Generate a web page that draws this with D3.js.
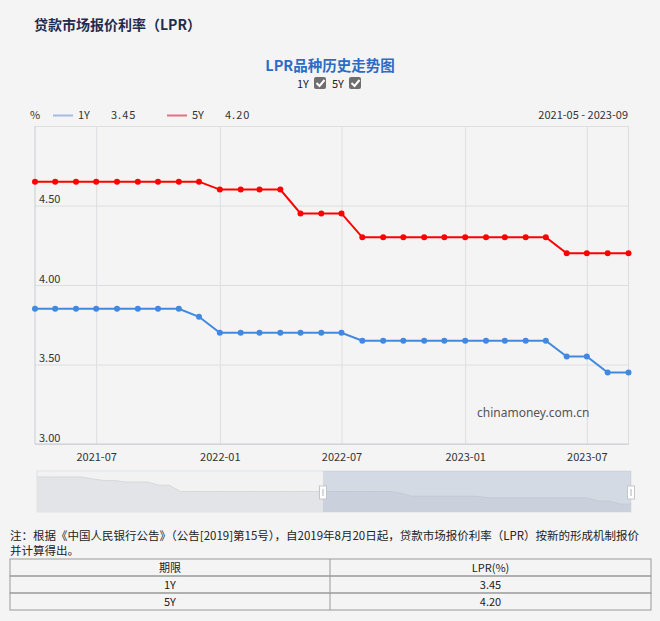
<!DOCTYPE html>
<html>
<head>
<meta charset="utf-8">
<script src="https://cdn.jsdelivr.net/npm/d3@7"></script>
<style>
  body { margin: 0; background: #f4f4f4; }
  svg { display: block; }
  text { font-family: "Noto Sans CJK SC", "Noto Sans", sans-serif; }
</style>
</head>
<body>
<script>
// monthly LPR shown in the main chart
const months = ["2021-04","2021-05","2021-06","2021-07","2021-08","2021-09","2021-10","2021-11","2021-12",
  "2022-01","2022-02","2022-03","2022-04","2022-05","2022-06","2022-07","2022-08","2022-09","2022-10","2022-11","2022-12",
  "2023-01","2023-02","2023-03","2023-04","2023-05","2023-06","2023-07","2023-08","2023-09"];
const rate1Y = [3.85,3.85,3.85,3.85,3.85,3.85,3.85,3.85,3.80,
  3.70,3.70,3.70,3.70,3.70,3.70,3.70,3.65,3.65,3.65,3.65,3.65,
  3.65,3.65,3.65,3.65,3.65,3.55,3.55,3.45,3.45];
const rate5Y = [4.65,4.65,4.65,4.65,4.65,4.65,4.65,4.65,4.65,
  4.60,4.60,4.60,4.60,4.45,4.45,4.45,4.30,4.30,4.30,4.30,4.30,
  4.30,4.30,4.30,4.30,4.30,4.20,4.20,4.20,4.20];

// full 1Y history drawn in the zoom slider
const historyMonths = ["2019-03","2019-04","2019-05","2019-06","2019-07","2019-08","2019-09","2019-10","2019-11","2019-12",
  "2020-01","2020-02","2020-03","2020-04","2020-05","2020-06","2020-07","2020-08","2020-09","2020-10","2020-11","2020-12",
  "2021-01","2021-02","2021-03","2021-04","2021-05","2021-06","2021-07","2021-08","2021-09","2021-10","2021-11","2021-12",
  "2022-01","2022-02","2022-03","2022-04","2022-05","2022-06","2022-07","2022-08","2022-09","2022-10","2022-11","2022-12",
  "2023-01","2023-02","2023-03","2023-04","2023-05","2023-06","2023-07","2023-08","2023-09"];
const history1Y = [4.31,4.31,4.31,4.31,4.31,4.25,4.20,4.20,4.15,4.15,
  4.15,4.05,4.05,3.85,3.85,3.85,3.85,3.85,3.85,3.85,3.85,3.85,
  3.85,3.85,3.85,3.85,3.85,3.85,3.85,3.85,3.85,3.85,3.85,3.80,
  3.70,3.70,3.70,3.70,3.70,3.70,3.70,3.65,3.65,3.65,3.65,3.65,
  3.65,3.65,3.65,3.65,3.65,3.55,3.55,3.45,3.45];
const windowRange = ["2021-05","2023-09"];

const xTickLabels = ["2021-07","2022-01","2022-07","2023-01","2023-07"];
const yTicks = [3.00, 3.50, 4.00, 4.50, 5.00];
const latest = [{term:"1Y", rate:"3.45"}, {term:"5Y", rate:"4.20"}];

const parseM = d3.timeParse("%Y-%m");
const blue = "#4189e0", red = "#ff0000";

var svg = d3.select("body").append("svg")
  .attr("width", 660)
  .attr("height", 621);

svg.append("text").text("贷款市场报价利率（LPR）")
  .attr("x", 34).attr("y", 30)
  .attr("font-size", 14).attr("font-weight", "bold")
  .attr("fill", "#1f2c4e");

svg.append("text").text("LPR品种历史走势图")
  .attr("x", 330).attr("y", 71)
  .attr("text-anchor", "middle")
  .attr("font-size", 14.5).attr("font-weight", "bold")
  .attr("fill", "#2b6cc8");

// series toggles
function checkbox(x, label){
  svg.append("text").text(label)
    .attr("x", x).attr("y", 88)
    .attr("font-size", 11).attr("fill", "#222");
  svg.append("rect")
    .attr("x", x + 17).attr("y", 77)
    .attr("width", 12).attr("height", 12)
    .attr("rx", 2).attr("fill", "#6e6e6e");
  svg.append("path")
    .attr("d", "M" + (x + 19.5) + ",83 l3,3 l5,-6")
    .attr("fill", "none").attr("stroke", "#fff").attr("stroke-width", 2);
}
checkbox(297, "1Y");
checkbox(332, "5Y");

// plot area
const pLeft = 35, pRight = 628.5, pTop = 126, pBottom = 444;

const x = d3.scaleTime()
  .domain([parseM(months[0]), parseM(months[months.length - 1])])
  .range([pLeft, pRight]);
const y = d3.scaleLinear()
  .domain([3, 5])
  .range([pBottom, pTop]);

var yAxis = svg.append("g")
  .attr("transform", "translate(" + pLeft + ",0)")
  .call(d3.axisLeft(y).tickValues(yTicks).tickSize(-(pRight - pLeft)).tickFormat(d3.format(".2f")));
yAxis.select(".domain").remove();
yAxis.selectAll("line").attr("stroke", "#dcdee2");
yAxis.selectAll("text")
  .attr("x", 4).attr("dy", "-0.25em")
  .attr("text-anchor", "start")
  .attr("font-size", 11).attr("fill", "#333")
  .style("font-family", "'Noto Sans CJK SC', sans-serif")
  .filter(function(d){ return d >= 5; }).remove();

var xAxis = svg.append("g")
  .attr("transform", "translate(0," + pBottom + ")")
  .call(d3.axisBottom(x).tickValues(xTickLabels.map(parseM)).tickSize(-(pBottom - pTop)).tickFormat(d3.timeFormat("%Y-%m")));
xAxis.select(".domain").remove();
xAxis.selectAll("line").attr("stroke", "#dcdee2");
xAxis.selectAll("text")
  .attr("y", 9).attr("dy", "0.71em")
  .attr("font-size", 11).attr("fill", "#333")
  .style("font-family", "'Noto Sans CJK SC', sans-serif");

svg.append("line")
  .attr("x1", pRight).attr("x2", pRight).attr("y1", pTop).attr("y2", pBottom)
  .attr("stroke", "#dcdee2");
svg.append("line")
  .attr("x1", pLeft).attr("x2", pLeft).attr("y1", pTop).attr("y2", pBottom)
  .attr("stroke", "#c9ccd1");
svg.append("line")
  .attr("x1", pLeft).attr("x2", pRight).attr("y1", pBottom).attr("y2", pBottom)
  .attr("stroke", "#c9ccd1");

svg.append("text").text("chinamoney.com.cn")
  .attr("x", 477).attr("y", 417)
  .attr("font-size", 12).attr("fill", "#555")
  .style("font-family", "'Noto Sans', sans-serif");

function drawSeries(values, color){
  const pts = months.map(function(m, i){ return {date: parseM(m), v: values[i]}; });
  const line = d3.line()
    .x(function(d){ return x(d.date); })
    .y(function(d){ return y(d.v); });
  svg.append("path").datum(pts)
    .attr("d", line)
    .attr("fill", "none").attr("stroke", color).attr("stroke-width", 2);
  svg.selectAll(null).data(pts).enter().append("circle")
    .attr("cx", function(d){ return x(d.date); })
    .attr("cy", function(d){ return y(d.v); })
    .attr("r", 3)
    .attr("fill", color);
}
drawSeries(rate5Y, red);
drawSeries(rate1Y, blue);

// legend row
svg.append("text").text("%").attr("x", 30).attr("y", 119).attr("font-size", 11).attr("fill", "#333");
var legend = [
  {name:"1Y", value: rate1Y[rate1Y.length - 1], color:"#a3bbe2", x:53},
  {name:"5Y", value: rate5Y[rate5Y.length - 1], color:"#e7717f", x:167}
];
legend.forEach(function(d){
  svg.append("line")
    .attr("x1", d.x).attr("x2", d.x + 20).attr("y1", 115.5).attr("y2", 115.5)
    .attr("stroke", d.color).attr("stroke-width", 2);
  svg.append("text").text(d.name)
    .attr("x", d.x + 25).attr("y", 119).attr("font-size", 11).attr("fill", "#333");
  svg.append("text").text(d.value.toFixed(2))
    .attr("x", d.x + 58).attr("y", 119).attr("font-size", 11).attr("fill", "#333")
    .attr("letter-spacing", 1);
});
svg.append("text").text(windowRange[0] + " - " + windowRange[1])
  .attr("x", 628).attr("y", 119)
  .attr("text-anchor", "end")
  .attr("font-size", 11).attr("fill", "#333");

// zoom slider
const sl = 37, sr = 631, st = 471, sb = 512;
const sx = d3.scaleTime()
  .domain([parseM(historyMonths[0]), parseM(historyMonths[historyMonths.length - 1])])
  .range([sl, sr]);
const sy = d3.scaleLinear().domain([3.2, 4.5]).range([sb, st]);
const hist = historyMonths.map(function(m, i){ return {date: parseM(m), v: history1Y[i]}; });

svg.append("rect")
  .attr("x", sl).attr("y", st).attr("width", sr - sl).attr("height", sb - st)
  .attr("fill", "#f2f2f3").attr("stroke", "#dfe1e4");
svg.append("path").datum(hist)
  .attr("d", d3.area()
    .x(function(d){ return sx(d.date); })
    .y0(sb)
    .y1(function(d){ return sy(d.v); }))
  .attr("fill", "#e3e4e7");
svg.append("path").datum(hist)
  .attr("d", d3.line()
    .x(function(d){ return sx(d.date); })
    .y(function(d){ return sy(d.v); }))
  .attr("fill", "none").attr("stroke", "#d6d8dc");

const w0 = sx(parseM(windowRange[0])), w1 = sx(parseM(windowRange[1]));
svg.append("rect")
  .attr("x", w0).attr("y", st).attr("width", w1 - w0).attr("height", sb - st)
  .attr("fill", "#9fb0c8").attr("fill-opacity", 0.35);
[w0, w1].forEach(function(hx){
  svg.append("rect")
    .attr("x", hx - 3.5).attr("y", 486).attr("width", 7).attr("height", 13)
    .attr("fill", "#fff").attr("stroke", "#c2c6cc");
  svg.append("line")
    .attr("x1", hx).attr("x2", hx).attr("y1", 489).attr("y2", 496)
    .attr("stroke", "#aab0b8");
});

// note
svg.append("text")
  .text("注：根据《中国人民银行公告》（公告[2019]第15号），自2019年8月20日起，贷款市场报价利率（LPR）按新的形成机制报价")
  .attr("x", 10).attr("y", 540)
  .attr("font-size", 11.5).attr("fill", "#222");
svg.append("text").text("并计算得出。")
  .attr("x", 10).attr("y", 555)
  .attr("font-size", 11.5).attr("fill", "#222");

// table of latest values
const tl = 10, tr = 651, colMid = 330, rowH = 17, tt = 559;
const rows = [{term:"期限", rate:"LPR(%)"}].concat(latest);
rows.forEach(function(r, i){
  const ry = tt + i * rowH;
  svg.append("rect")
    .attr("x", tl).attr("y", ry).attr("width", tr - tl).attr("height", rowH)
    .attr("fill", "none").attr("stroke", "#9a9a9a");
  svg.append("text").text(r.term)
    .attr("x", (tl + colMid) / 2).attr("y", ry + 12.5)
    .attr("text-anchor", "middle").attr("font-size", 11).attr("fill", "#222");
  svg.append("text").text(r.rate)
    .attr("x", (colMid + tr) / 2).attr("y", ry + 12.5)
    .attr("text-anchor", "middle").attr("font-size", 11).attr("fill", "#222");
});
svg.append("line")
  .attr("x1", colMid).attr("x2", colMid).attr("y1", tt).attr("y2", tt + rows.length * rowH)
  .attr("stroke", "#9a9a9a");
</script>
</body>
</html>
